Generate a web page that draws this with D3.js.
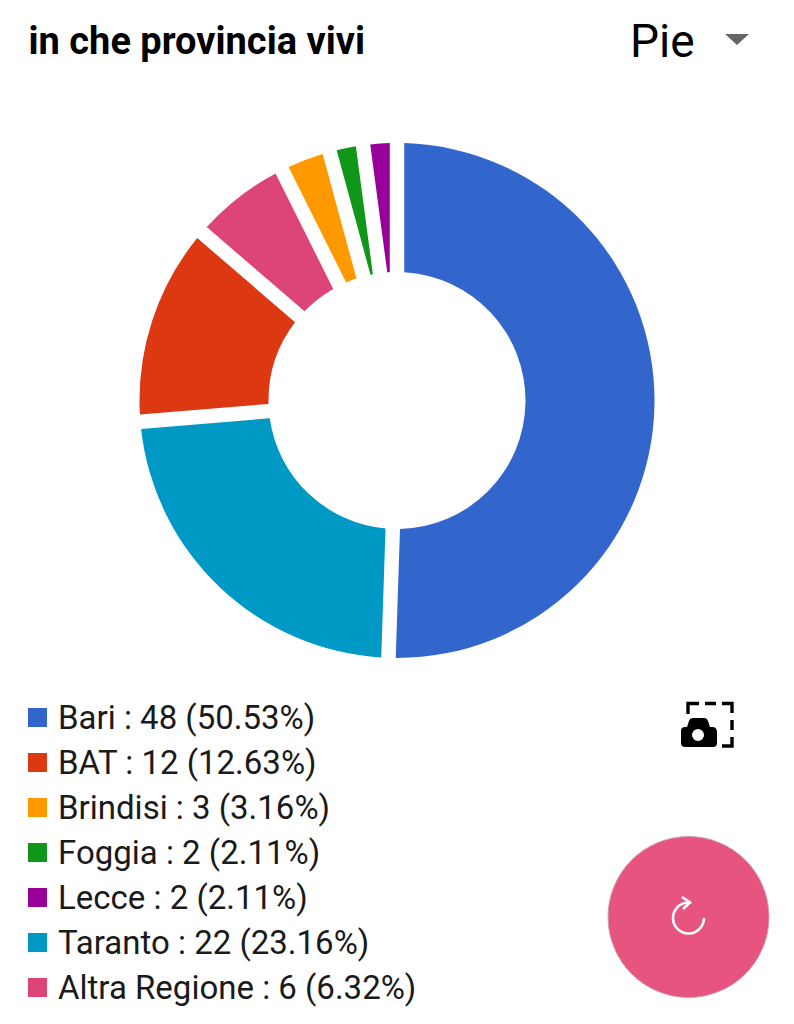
<!DOCTYPE html>
<html><head><meta charset="utf-8">
<script src="https://cdn.jsdelivr.net/npm/d3@7"></script>
<style>html,body{margin:0;padding:0;background:#fff;overflow:hidden}svg{display:block;font-family:Roboto,sans-serif}</style>
</head><body>
<svg id="c" width="794" height="1024"></svg>
<script>
const categories=["Bari","BAT","Brindisi","Foggia","Lecce","Taranto","Altra Regione"];
const values=[48,12,3,2,2,22,6];
const percents=["50.53","12.63","3.16","2.11","2.11","23.16","6.32"];
const colors=["#3366cc","#dc3912","#ff9900","#109618","#990099","#0099c6","#dd4477"];
const sliceOrder=["Bari","Taranto","BAT","Altra Regione","Brindisi","Foggia","Lecce"];
const titleText="in che provincia vivi";
const typeLabel="Pie";

const svg=d3.select("#c");
svg.append("text").attr("x",28.5).attr("y",54).attr("font-size",38).attr("font-weight",700).attr("fill","#000").text(titleText);
svg.append("text").attr("x",630).attr("y",57).attr("font-size",46).attr("fill","#000").text(typeLabel);
svg.append("path").attr("d","M725 34L749 34L737 45Z").attr("fill","#666");

const rows=categories.map((c,i)=>({c,v:values[i],p:percents[i],col:colors[i]}));
const pie=d3.pie().value(d=>d.v).sort((a,b)=>sliceOrder.indexOf(a.c)-sliceOrder.indexOf(b.c));
const arc=d3.arc().innerRadius(128.5).outerRadius(257.5).padRadius(100).padAngle(0.145);
svg.append("g").attr("transform","translate(397,400.5)").selectAll("path").data(pie(rows)).join("path")
  .attr("d",arc).attr("fill",d=>d.data.col);

const y=d3.scalePoint().domain(categories).range([717,987]);
const lg=svg.append("g").selectAll("g").data(rows).join("g").attr("transform",d=>`translate(0,${y(d.c)})`);
lg.append("rect").attr("x",28).attr("y",-9).attr("width",19).attr("height",19).attr("fill",d=>d.col);
lg.append("text").attr("x",58).attr("y",12).attr("font-size",33).attr("fill","#1a1a1a")
  .text(d=>`${d.c} : ${d.v} (${d.p}%)`);

// screenshot icon
const ic=svg.append("g");
ic.append("path").attr("d","M688 714V703.5H699M705 703.5H716M722 703.5H732V713M732 720V730M732 737V746H722")
  .attr("fill","none").attr("stroke","#000").attr("stroke-width",3.4);
ic.append("path").attr("fill-rule","evenodd").attr("fill","#000")
  .attr("d","M685 727H687L689 721Q690 718 693 718H704Q707 718 708 721L710 727H712Q717 727 717 732V743Q717 747 713 747H685Q681 747 681 743V731Q681 727 685 727ZM698 729A6 6 0 1 0 698.01 741A6 6 0 1 0 698 729Z");

// refresh button
svg.append("circle").attr("cx",688.5).attr("cy",917).attr("r",80.5).attr("fill","#e75480").attr("stroke","#c9a3ae").attr("stroke-width",1);
svg.append("path").attr("d","M704 918A15.5 15.5 0 1 1 688 902.5M682 897L690 902.5L683 909").attr("fill","none").attr("stroke","#fff").attr("stroke-width",2.6);
</script>
</body></html>
